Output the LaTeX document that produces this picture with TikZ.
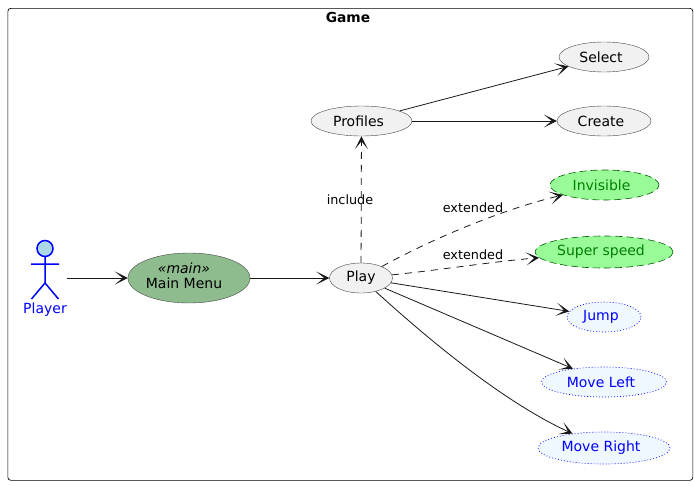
\documentclass[tikz,border=0pt]{standalone}
\usepackage{fontspec}
\setmainfont{DejaVu Sans}
\usetikzlibrary{arrows.meta,shapes.geometric}
\definecolor{ucfill}{HTML}{F1F1F1}
\definecolor{mainf}{HTML}{8FBC8F}
\definecolor{grn}{HTML}{98FB98}
\definecolor{dgrn}{HTML}{008000}
\definecolor{afill}{HTML}{ADD8E6}
\definecolor{mfill}{HTML}{F0F8FF}
\definecolor{edge}{HTML}{181818}
\newcommand\lft[1]{#1\kern6pt}
\tikzset{x=1pt,y=-1pt,
 uc/.style={ellipse,draw=edge!80,line width=.4pt,fill=ucfill,inner sep=0,font=\fontsize{14}{16}\selectfont},
 ex/.style={uc,draw=dgrn!70!black,line width=.6pt,fill=grn,text=dgrn,dash pattern=on 7pt off 4pt},
 mv/.style={uc,draw=blue,line width=.6pt,fill=mfill,text=blue,dash pattern=on 1pt off 2pt},
 conn/.style={-{Stealth[length=13pt,width=13pt,inset=8pt,line width=1.1pt]},line width=.8pt,edge},
 dconn/.style={conn,dash pattern=on 7pt off 6pt},
 lab/.style={font=\fontsize{12.8}{15}\selectfont,inner sep=0}}
\begin{document}
\begin{tikzpicture}
\useasboundingbox (0,0) rectangle (694,485);
\node[draw=black,rounded corners=3pt,line width=.7pt,minimum width=685pt,minimum height=472pt,inner sep=0,anchor=north west] (box) at (7.5,8) {};
\node[font=\bfseries\fontsize{13.8}{16}\selectfont,inner sep=0] (title) at (348,17) {Game};
\node[uc,minimum width=121pt,minimum height=50pt,fill=mainf,align=center] (menu) at (189,278) {\raisebox{2pt}{\begin{tabular}{@{}c@{}}\textit{«main»}\\[-1pt]Main Menu\end{tabular}}\kern10pt};
\node[uc,minimum width=63pt,minimum height=30pt] (play) at (361,278) {Play};
\node[uc,minimum width=101pt,minimum height=30pt] (prof) at (361.5,121) {\lft{Profiles}};
\node[uc,minimum width=90pt,minimum height=30pt] (sel) at (604,57) {\lft{Select}};
\node[uc,minimum width=94pt,minimum height=30pt] (cre) at (604,121) {\lft{Create}};
\node[ex,minimum width=109pt,minimum height=30pt] (inv) at (604.5,185) {\lft{Invisible}};
\node[ex,minimum width=138pt,minimum height=32pt] (sup) at (604,252) {\lft{Super speed}};
\node[mv,minimum width=74pt,minimum height=30pt] (jump) at (604,317) {\lft{Jump}};
\node[mv,minimum width=125pt,minimum height=30pt] (ml) at (604,382) {\lft{Move Left}};
\node[mv,minimum width=132pt,minimum height=32pt] (mr) at (604,448) {\lft{Move Right}};
\begin{scope}[draw=blue,line width=1.5pt]
\draw[fill=afill] (45,248.5) circle (8pt);
\draw (45,257) -- (45,283) (31,264) -- (59,264) (45,283) -- (31.5,299) (45,283) -- (58.5,299);
\end{scope}
\node[text=blue,font=\fontsize{14}{16}\selectfont,inner sep=0] (plabel) at (45,310) {Player};
\coordinate (aout) at (67,278);
\draw[conn] (aout) -- (menu);
\draw[conn] (menu) -- (play);
\draw[dconn] (play) -- (prof);
\node[lab] (l1) at (350,200) {include};
\draw[conn] (prof) -- (sel);
\draw[conn] (prof) -- (cre);
\draw[dconn] (play) .. controls (430,240) and (500,210) .. (inv);
\node[lab] (l2) at (473,207.5) {extended};
\draw[dconn] (play) .. controls (440,270) and (490,262) .. (sup);
\node[lab] (l3) at (473,254.5) {extended};
\draw[conn] (play) -- (jump);
\draw[conn] (play) -- (ml);
\draw[conn] (play) .. controls (440,350) and (510,405) .. (mr);
\end{tikzpicture}
\end{document}
